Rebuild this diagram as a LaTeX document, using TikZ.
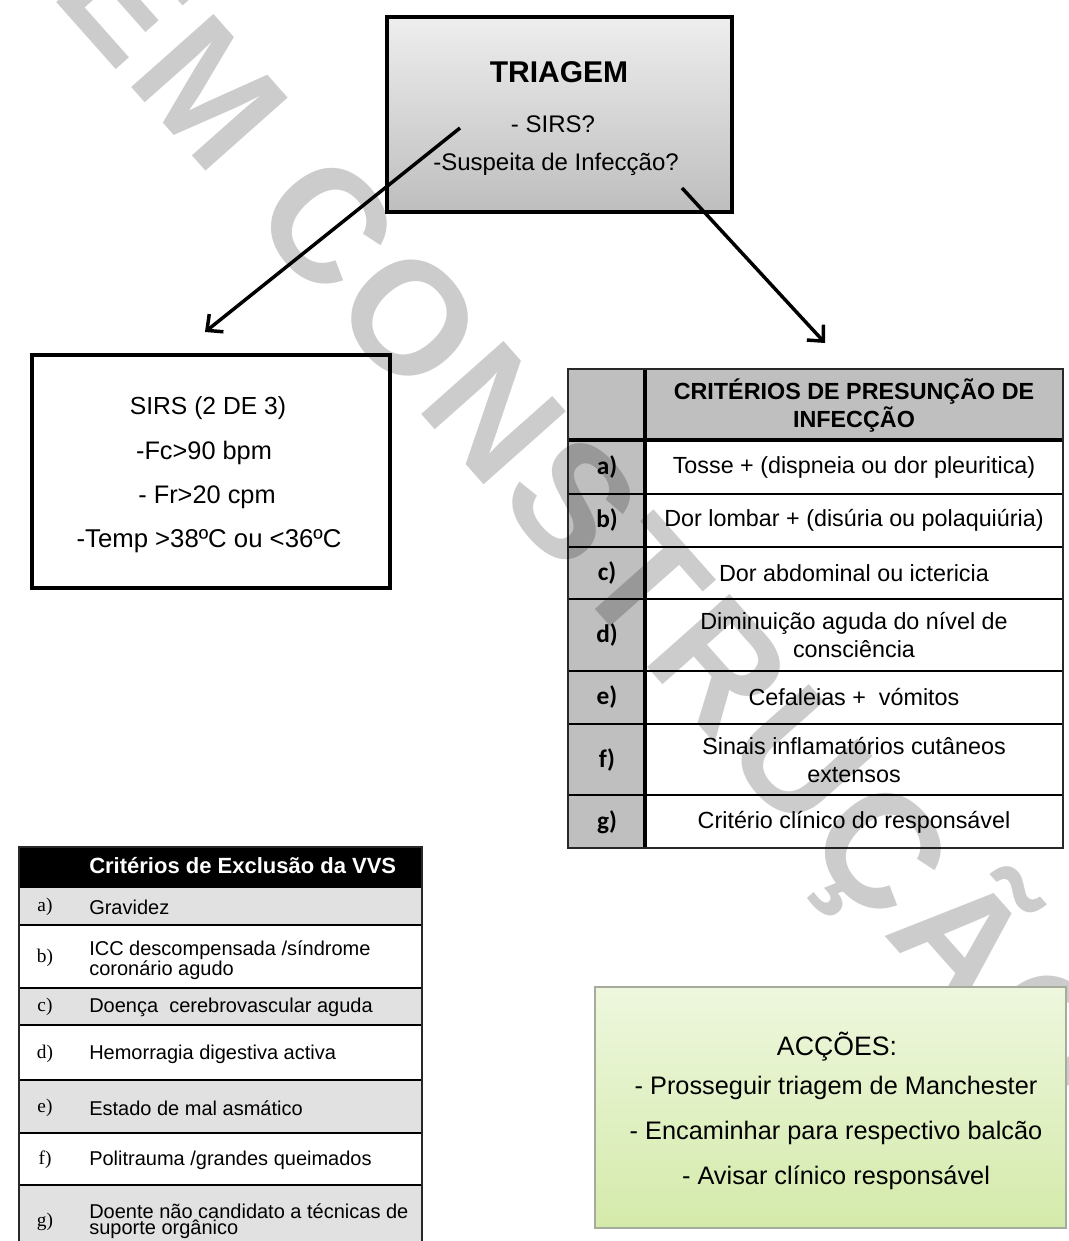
\documentclass[tikz,border=0pt]{standalone}
\usepackage{fontspec}
\setmainfont{Liberation Sans}
\newfontfamily\calibrifont{Carlito}
\newfontfamily\timesfont{Liberation Serif}
\newfontfamily\marcafont[LetterSpace=4]{Liberation Sans}
\usetikzlibrary{arrows.meta}

\definecolor{cellgray}{RGB}{191,191,191}
\definecolor{rowgray}{RGB}{225,225,225}
\definecolor{triagemtop}{RGB}{238,238,238}
\definecolor{triagembot}{RGB}{190,190,190}
\definecolor{greentop}{RGB}{238,247,222}
\definecolor{greenbot}{RGB}{212,234,170}
\definecolor{greenline}{RGB}{165,172,155}

\newcommand{\fsz}[2]{\fontsize{#1}{#2}\selectfont}

\tikzset{
  lbl/.style={inner sep=0.75pt, align=center},
  lbleft/.style={inner sep=0.75pt, align=left, anchor=west},
  seta/.style={line width=2.6pt, -{Straight Barb[length=9pt,width=17pt]}},
  sep/.style={line width=1.3pt},
  marca/.style={inner sep=0pt, text=black, text opacity=0.2, font=\marcafont\bfseries\fsz{120}{120}},
}

\begin{document}
\begin{tikzpicture}[x=0.75pt,y=0.75pt,yscale=-1,xscale=1]
%set diagram left start at 0, and has height of 1241
\useasboundingbox (0,0) rectangle (1068,1241);
\clip (0,0) rectangle (1068,1241);

%Shape: Rectangle [id:triagem]
\draw [line width=2.4pt, top color=triagemtop, bottom color=triagembot] (387,17) rectangle (732,212);
% Text Node
\node [lbl, font=\fsz{22.5}{26}\bfseries] (triagem) at (559,72) {TRIAGEM};
% Text Node
\node [lbl, font=\fsz{18}{22}] (sirsq) at (553,124) {- SIRS?};
% Text Node
\node [lbl, font=\fsz{18}{22}] (suspeita) at (556,164) {-Suspeita de Infecção?};

%Straight Lines [id:seta1]
\coordinate (triA) at (460,128);
\coordinate (sirsTip) at (205,332);
\draw [seta] (triA) -- (sirsTip);
%Straight Lines [id:seta2]
\coordinate (triB) at (682,188);
\coordinate (critTip) at (825,343);
\draw [seta] (triB) -- (critTip);

%Shape: Rectangle [id:sirs]
\draw [line width=2.8pt, fill=white] (32,355) rectangle (390,588);
% Text Node
\node [lbl, font=\fsz{18.5}{22}] (sirs) at (208,408) {SIRS (2 DE 3)};
\node [lbl, font=\fsz{19}{22}] (fc) at (204,453) {-Fc>90 bpm};
\node [lbl, font=\fsz{19}{22}] (fr) at (207,497) {- Fr>20 cpm};
\node [lbl, font=\fsz{19.3}{22}] (temp) at (209,541) {-Temp >38ºC ou <36ºC};

%Shape: Table [id:criterios]
\fill [white] (568,369) rectangle (1063,848);
\fill [cellgray] (568,369) rectangle (645,848);
\fill [cellgray] (645,369) rectangle (1063,440);
\draw [sep] (568,494) -- (1063,494);
\draw [sep] (568,547) -- (1063,547);
\draw [sep] (568,599) -- (1063,599);
\draw [sep] (568,671) -- (1063,671);
\draw [sep] (568,724) -- (1063,724);
\draw [sep] (568,795) -- (1063,795);
\draw [line width=2.4pt] (568,440) -- (1063,440);
\draw [line width=2.6pt] (645,369) -- (645,848);
\draw [line width=1.2pt, draw={rgb,255:red,40;green,40;blue,40}] (568,369) rectangle (1063,848);
% Text Node
\node [lbl, font=\fsz{17.5}{21}\bfseries] (critHead) at (854,406) {CRITÉRIOS DE PRESUNÇÃO DE\\INFECÇÃO};
\node [lbl, font=\fsz{17.5}{21}] (critA) at (854,467) {Tosse + (dispneia ou dor pleuritica)};
\node [lbl, font=\fsz{17.5}{21}] (critB) at (854,520) {Dor lombar + (disúria ou polaquiúria)};
\node [lbl, font=\fsz{17.5}{21}] (critC) at (854,573) {Dor abdominal ou ictericia};
\node [lbl, font=\fsz{17.5}{21}] (critD) at (854,635) {Diminuição aguda do nível de\\consciência};
\node [lbl, font=\fsz{17.5}{21}] (critE) at (854,697) {Cefaleias +\ \ vómitos};
\node [lbl, font=\fsz{17.5}{21}] (critF) at (854,760) {Sinais inflamatórios cutâneos\\extensos};
\node [lbl, font=\fsz{17.5}{21}] (critG) at (854,822) {Critério clínico do responsável};
% Text Node
\node [lbl, font=\calibrifont\fsz{19}{22}\bfseries] (letA) at (607,467) {a)};
\node [lbl, font=\calibrifont\fsz{19}{22}\bfseries] (letB) at (607,520) {b)};
\node [lbl, font=\calibrifont\fsz{19}{22}\bfseries] (letC) at (607,573) {c)};
\node [lbl, font=\calibrifont\fsz{19}{22}\bfseries] (letD) at (607,635) {d)};
\node [lbl, font=\calibrifont\fsz{19}{22}\bfseries] (letE) at (607,697) {e)};
\node [lbl, font=\calibrifont\fsz{19}{22}\bfseries] (letF) at (607,760) {f)};
\node [lbl, font=\calibrifont\fsz{19}{22}\bfseries] (letG) at (607,822) {g)};

%Shape: Table [id:exclusao]
\fill [black] (19,847) rectangle (422,888);
\fill [rowgray] (19,888) rectangle (422,925);
\fill [white] (19,925) rectangle (422,988);
\fill [rowgray] (19,988) rectangle (422,1025);
\fill [white] (19,1025) rectangle (422,1080);
\fill [rowgray] (19,1080) rectangle (422,1133);
\fill [white] (19,1133) rectangle (422,1185);
\fill [rowgray] (19,1185) rectangle (422,1250);
\draw [sep] (19,925) -- (422,925);
\draw [sep] (19,988) -- (422,988);
\draw [sep] (19,1025) -- (422,1025);
\draw [sep] (19,1080) -- (422,1080);
\draw [sep] (19,1133) -- (422,1133);
\draw [sep] (19,1185) -- (422,1185);
\draw [line width=1.2pt, draw={rgb,255:red,40;green,40;blue,40}] (19,847) rectangle (422,1250);
% Text Node
\node [lbleft, font=\fsz{16.5}{20}\bfseries, text=white] (exclHead) at (88,866) {Critérios de Exclusão da VVS};
\node [lbleft, font=\fsz{15}{12}] (exclA) at (88,907) {Gravidez};
\node [lbleft, font=\fsz{15}{12}] (exclB) at (88,960) {ICC descompensada /síndrome\\coronário agudo};
\node [lbleft, font=\fsz{15}{12}] (exclC) at (88,1007) {Doença\ \ cerebrovascular aguda};
\node [lbleft, font=\fsz{15}{12}] (exclD) at (88,1054) {Hemorragia digestiva activa};
\node [lbleft, font=\fsz{15}{12}] (exclE) at (88,1108) {Estado de mal asmático};
\node [lbleft, font=\fsz{15}{12}] (exclF) at (88,1160) {Politrauma /grandes queimados};
\node [lbleft, font=\fsz{15}{12}] (exclG) at (88,1221) {Doente não candidato a técnicas de\\suporte orgânico};
% Text Node
\node [lbl, font=\timesfont\fsz{14.5}{16}] (exA) at (45,907) {a)};
\node [lbl, font=\timesfont\fsz{14.5}{16}] (exB) at (45,958) {b)};
\node [lbl, font=\timesfont\fsz{14.5}{16}] (exC) at (45,1007) {c)};
\node [lbl, font=\timesfont\fsz{14.5}{16}] (exD) at (45,1054) {d)};
\node [lbl, font=\timesfont\fsz{14.5}{16}] (exE) at (45,1108) {e)};
\node [lbl, font=\timesfont\fsz{14.5}{16}] (exF) at (45,1160) {f)};
\node [lbl, font=\timesfont\fsz{14.5}{16}] (exG) at (45,1222) {g)};

% Text Node: marca de agua
\node [marca, rotate=-48.4] (emconstrucao) at (589,520) {EM CONSTRUÇÃO};

%Shape: Rectangle [id:accoes]
\draw [line width=0.9pt, draw=greenline, top color=greentop, bottom color=greenbot] (595,987) rectangle (1066,1228);
% Text Node
\node [lbl, font=\fsz{20}{24}] (accoes) at (837,1047) {ACÇÕES:};
\node [lbl, font=\fsz{19}{24}] (prosseguir) at (836,1088) {- Prosseguir triagem de Manchester};
\node [lbl, font=\fsz{19}{24}] (encaminhar) at (836,1133) {- Encaminhar para respectivo balcão};
\node [lbl, font=\fsz{19}{24}] (avisar) at (836,1178) {- Avisar clínico responsável};

\end{tikzpicture}
\end{document}
